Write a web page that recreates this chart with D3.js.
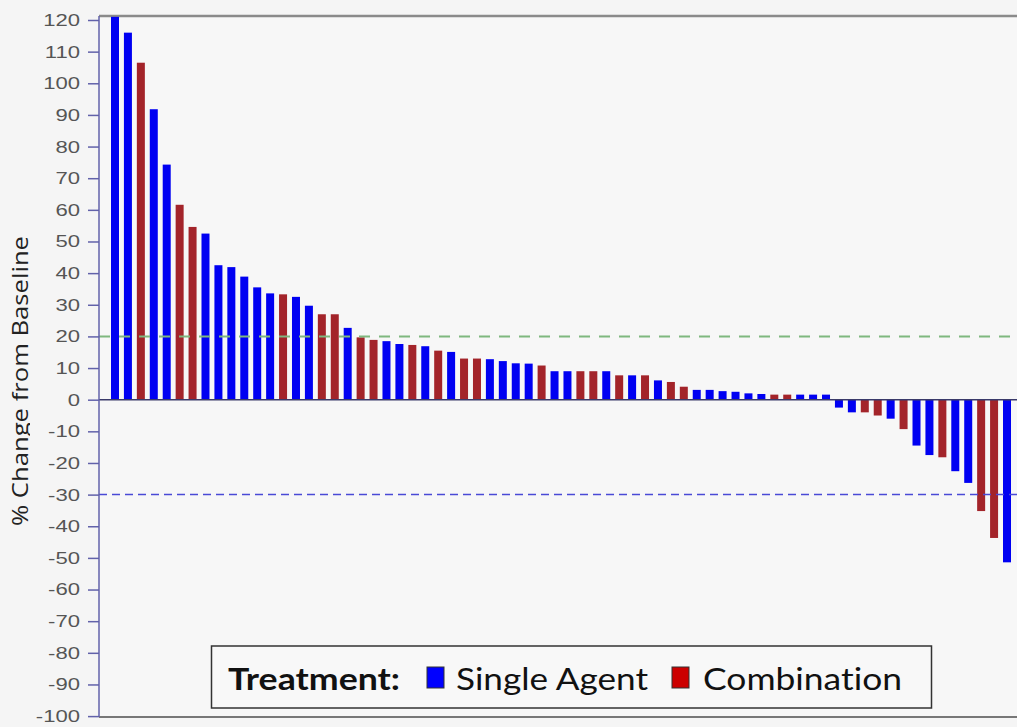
<!DOCTYPE html>
<html><head><meta charset="utf-8">
<script src="https://cdn.jsdelivr.net/npm/d3@7/dist/d3.min.js"></script>
<style>body{margin:0;background:#f5f5f5;} svg{display:block} text{font-variant-ligatures:none;}</style>
</head><body><svg id="c" width="1017" height="727"></svg>
<script>
// ---- data ----
const patients = ["P01","P02","P03","P04","P05","P06","P07","P08","P09","P10",
  "P11","P12","P13","P14","P15","P16","P17","P18","P19","P20",
  "P21","P22","P23","P24","P25","P26","P27","P28","P29","P30",
  "P31","P32","P33","P34","P35","P36","P37","P38","P39","P40",
  "P41","P42","P43","P44","P45","P46","P47","P48","P49","P50",
  "P51","P52","P53","P54","P55","P56","P57","P58","P59","P60",
  "P61","P62","P63","P64","P65","P66","P67","P68","P69","P70"];
const changes = [121,116,106.5,91.8,74.3,61.6,54.6,52.5,42.5,41.9,
  38.9,35.5,33.6,33.3,32.5,29.7,27.0,27.0,22.7,19.7,
  18.9,18.5,17.6,17.3,16.9,15.5,15.1,13.0,13.0,12.8,
  12.2,11.5,11.4,10.8,9.0,9.0,9.0,9.0,9.0,7.7,
  7.7,7.7,6.1,5.6,4.1,3.1,3.1,2.7,2.5,2.0,
  1.8,1.6,1.6,1.6,1.6,1.6,-2.5,-4.0,-4.0,-5.0,
  -6.0,-9.3,-14.5,-17.5,-18.2,-22.6,-26.3,-35.2,-43.7,-51.4];
const treatment = ["S","S","C","S","S","C","C","S","S","S",
  "S","S","S","C","S","S","C","C","S","C",
  "C","S","S","C","S","C","S","C","C","S",
  "S","S","S","C","S","S","C","C","S","C",
  "S","C","S","C","C","S","S","S","S","S",
  "S","C","C","S","S","S","S","S","C","C",
  "S","C","S","S","C","S","S","C","C","S"];
const groupKeys = ["S","C"];
const groupNames = ["Single Agent","Combination"];
const yTicks = [-100,-90,-80,-70,-60,-50,-40,-30,-20,-10,0,10,20,30,40,50,60,70,80,90,100,110,120];
const refLines = [20,-30];
const legendTitle = "Treatment:";
const yTitle = "% Change from Baseline";

// ---- layout ----
const svg = d3.select("#c");
const pL = 99, pR = 1017, pT = 16, pB = 717;
const y = d3.scaleLinear().domain([-100,120]).range([716.1,20]);
const x = d3.scalePoint().domain(patients).range([115,1007]);
const color = d3.scaleOrdinal().domain(groupKeys).range(["#0000f2","#a3242a"]);
const barW = 8;

svg.append("rect").attr("width",1017).attr("height",727).attr("fill","#f5f5f5");
svg.append("rect").attr("x",pL).attr("y",pT).attr("width",pR-pL).attr("height",pB-pT).attr("fill","#f7f7f7");

// y title (clipped like reference)
svg.append("clipPath").attr("id","tclip").append("rect").attr("x",0).attr("y",0).attr("width",30).attr("height",727);
svg.append("g").attr("clip-path","url(#tclip)")
  .append("text")
  .attr("transform","translate(28,381) rotate(-90)")
  .attr("text-anchor","middle")
  .attr("font-family","'Open Sans', sans-serif")
  .attr("font-size",21)
  .attr("fill","#222")
  .attr("textLength",290).attr("lengthAdjust","spacingAndGlyphs")
  .text(yTitle);

// borders
svg.append("line").attr("x1",pL).attr("x2",pR).attr("y1",pT).attr("y2",pT).attr("stroke","#8a8a8a").attr("stroke-width",2.5);
svg.append("line").attr("x1",pL).attr("x2",pR).attr("y1",pB).attr("y2",pB).attr("stroke","#777").attr("stroke-width",2);

// bars
svg.append("g").selectAll("rect").data(patients).join("rect")
  .attr("x",(d)=>x(d)-barW/2)
  .attr("width",barW)
  .attr("y",(d,i)=>Math.max(pT, y(Math.max(0,changes[i]))))
  .attr("height",(d,i)=>{
    const y0 = y(0), y1 = Math.max(pT, y(changes[i]));
    return Math.abs(y1-y0);
  })
  .attr("fill",(d,i)=>color(treatment[i]));

// zero line
svg.append("line").attr("x1",pL).attr("x2",pR).attr("y1",y(0)).attr("y2",y(0)).attr("stroke","#3a3a6a").attr("stroke-width",1.5);

// reference lines
svg.append("line").attr("x1",pL).attr("x2",pR).attr("y1",y(refLines[0])).attr("y2",y(refLines[0]))
  .attr("stroke","#7fb87f").attr("stroke-width",2).attr("stroke-dasharray","11,9");
svg.append("line").attr("x1",pL).attr("x2",pR).attr("y1",y(refLines[1])).attr("y2",y(refLines[1]))
  .attr("stroke","#4a4ad6").attr("stroke-width",1.5).attr("stroke-dasharray","8,5");

// y axis
const ax = svg.append("g").attr("transform",`translate(${pL},0)`)
  .call(d3.axisLeft(y).tickValues(yTicks).tickFormat(d=>String(d)).tickSize(11).tickSizeOuter(0).tickPadding(8));
ax.select(".domain").remove();
ax.selectAll(".tick line").attr("stroke","#6262aa").attr("stroke-width",1.5);
ax.selectAll(".tick text")
  .attr("font-family","'Liberation Sans', Arial, sans-serif")
  .attr("font-size",17).attr("fill","#555")
  .attr("x",-19/1.3)
  .attr("transform","scale(1.3,1)");
svg.append("line").attr("x1",pL).attr("x2",pL).attr("y1",pT).attr("y2",pB).attr("stroke","#6262aa").attr("stroke-width",1.5);

// legend
const lg = svg.append("g");
lg.append("rect").attr("x",211.5).attr("y",646).attr("width",720).attr("height",62)
  .attr("fill","#f8f8f8").attr("stroke","#333").attr("stroke-width",1.5);
lg.append("text").attr("x",228).attr("y",690).attr("font-family","Lato, 'Open Sans', sans-serif")
  .attr("font-weight","bold").attr("font-size",31).attr("fill","#111")
  .attr("textLength",172).attr("lengthAdjust","spacingAndGlyphs").text(legendTitle);
const lx = [427,672], tx = [456,703], tw = [192,199];
groupKeys.forEach((k,i)=>{
  lg.append("rect").attr("x",lx[i]).attr("y",667).attr("width",17).attr("height",21)
    .attr("fill",i===0?"#0000ff":"#cc0000").attr("stroke","#333").attr("stroke-width",1);
  lg.append("text").attr("x",tx[i]).attr("y",690).attr("font-family","Lato, 'Open Sans', sans-serif")
    .attr("font-size",31).attr("fill","#111")
    .attr("textLength",tw[i]).attr("lengthAdjust","spacingAndGlyphs").text(groupNames[i]);
});
</script>
</body></html>
